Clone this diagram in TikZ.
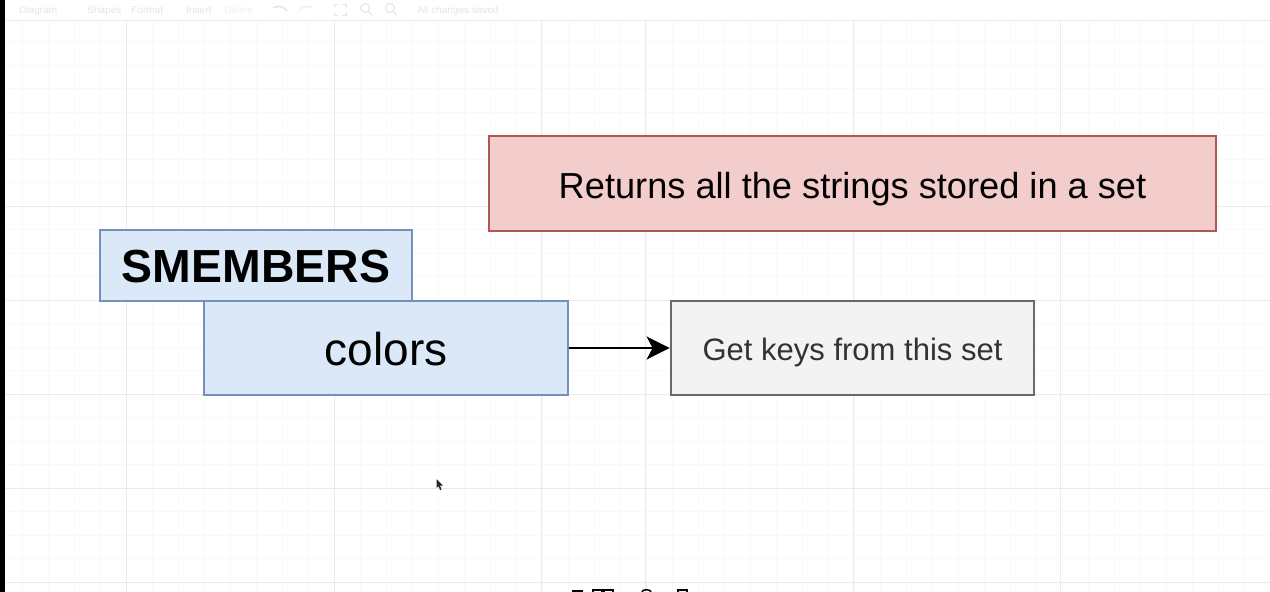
\documentclass[tikz,border=0pt]{standalone}
\usepackage{fontspec}
\usetikzlibrary{arrows.meta}
\setmainfont{Liberation Sans}
\definecolor{bluefill}{RGB}{218,232,248}
\definecolor{bluedraw}{RGB}{118,143,190}
\definecolor{redfill}{RGB}{243,205,203}
\definecolor{reddraw}{RGB}{176,88,84}
\definecolor{grayfill}{RGB}{243,243,243}
\definecolor{graydraw}{RGB}{105,105,105}
\definecolor{gridminor}{RGB}{249,249,249}
\definecolor{gridmajor}{RGB}{234,234,234}
\definecolor{barfaint}{RGB}{228,228,228}

\begin{document}
\begin{tikzpicture}[x=1pt,y=-1pt,line width=2.8pt]
          \tikzstyle{every node}=[inner sep=0pt,text depth=0pt]
          \tikzstyle{cmdbox}=[draw=bluedraw,fill=bluefill,text=black]
          \tikzstyle{infobox}=[draw=reddraw,fill=redfill,text=black]
          \tikzstyle{notebox}=[draw=graydraw,fill=grayfill,text=black!80]
          \tikzstyle{barlabel}=[text=barfaint,font=\fontsize{10}{12}\selectfont,anchor=base west]
            \useasboundingbox (0,0) rectangle (1270,592);
            \fill[white] (0,0) rectangle (1270,592);

            % grid
            \foreach \gx in {22,48,...,1270}
              \draw[gridminor,line width=1pt] (\gx,20) -- (\gx,592);
            \foreach \gy in {41.5,65,88.5,112,135.5,159,182.5,206,229.5,253,276.5,300,323.5,347,370.5,394,417.5,441,464.5,488,511.5,535,558.5,582}
              \draw[gridminor,line width=1pt] (5,\gy) -- (1270,\gy);
            \foreach \gx in {126,334,541,645,853,1060}
              \draw[gridmajor,line width=1pt] (\gx,20) -- (\gx,592);
            \foreach \gy in {20,206,300,394,488,582}
              \draw[gridmajor,line width=1pt] (5,\gy) -- (1270,\gy);
            \fill[black] (0,0) rectangle (5,592);

            % toolbar
            \node[barlabel] (diagram) at (18,13) {Diagram};
            \node[barlabel] (shapes) at (86,13) {Shapes};
            \node[barlabel] (format) at (130,13) {Format};
            \node[barlabel] (insert) at (185,13) {Insert};
            \node[barlabel,text=barfaint!50] (delete) at (223,13) {Delete};
            \node[barlabel] (saved) at (416,13) {All changes saved};
            \draw[barfaint,line width=1.5pt] (273,8) .. controls (278,5) and (283,6) .. (287,11);
            \draw[barfaint!60,line width=1.5pt] (313,8) .. controls (308,5) and (303,6) .. (299,11);
            \draw[barfaint,line width=1pt] (334,8) -- (334,4) -- (338,4) (342,4) -- (346,4) -- (346,8) (346,12) -- (346,15) -- (342,15) (338,15) -- (334,15) -- (334,12);
            \draw[barfaint,line width=1pt] (365,8) circle (4.5) (368,11.5) -- (372,15);
            \draw[barfaint,line width=1pt] (390,8) circle (4.5) (393,11.5) -- (397,15);

            % boxes
            \node[infobox,minimum width=727pt,minimum height=95pt,text height=30.6pt,font=\fontsize{36.2}{40}\selectfont] (desc) at (852.5,183.5) {Returns all the strings stored in a set};
            \node[cmdbox,minimum width=312pt,minimum height=71pt,text height=34.6pt,font=\fontsize{46.4}{50}\bfseries] (cmd) at (256,265.5) {SMEMBERS};
            \node[cmdbox,minimum width=364pt,minimum height=94pt,text height=35pt,font=\fontsize{46}{50}\selectfont] (key) at (386,348) {colors};
            \node[notebox,minimum width=363pt,minimum height=94pt,text height=25.6pt,font=\fontsize{31}{34}\selectfont] (note) at (852.5,348) {Get keys from this set};

            \draw[-{Stealth[length=23pt,width=23pt,inset=6pt]},black,line width=2.5pt] (key) -- (note);

            % cursor
            \fill[black!85] (436.5,479) -- (436.5,488) -- (438.5,486) -- (440,490) -- (441.5,489.5) -- (440,485.5) -- (443,485.5) -- cycle;

            % dock at the bottom edge
            \fill[black] (572,590) rectangle (583,592);
            \draw[black,line width=1.5pt] (593,592) -- (593,590) -- (602,590) -- (602,592) (604,592) -- (604,590) -- (613,590) -- (613,592);
            \draw[black,line width=1.5pt] (642,592) .. controls (642,589) and (651,589) .. (651,592);
            \draw[black,line width=1.5pt] (678,592) -- (678,590) -- (687,590) -- (687,592);
\end{tikzpicture}
\end{document}
